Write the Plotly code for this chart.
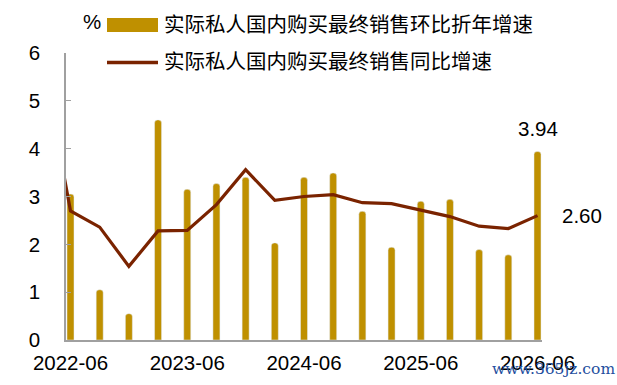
import plotly.graph_objects as go

# ---- data ----
quarters = ["2022-03", "2022-06", "2022-09", "2022-12", "2023-03", "2023-06", "2023-09",
            "2023-12", "2024-03", "2024-06", "2024-09", "2024-12", "2025-03", "2025-06",
            "2025-09", "2025-12", "2026-03", "2026-06"]
bar_quarters = quarters[1:]
qoq_annualized = [3.05, 1.05, 0.55, 4.60, 3.15, 3.27, 3.40, 2.03, 3.40, 3.49,
                  2.69, 1.94, 2.90, 2.94, 1.89, 1.78, 3.94]
yoy = [6.0, 2.70, 2.36, 1.54, 2.28, 2.29, 2.83, 3.56, 2.92, 3.00, 3.04,
       2.87, 2.85, 2.72, 2.58, 2.38, 2.33, 2.60]
tick_labels = ["2022-06", "2023-06", "2024-06", "2025-06", "2026-06"]
name_bar = "实际私人国内购买最终销售环比折年增速"
name_line = "实际私人国内购买最终销售同比增速"

BAR_C = "#BF9000"
LINE_C = "#7A2300"
AX_C = "#A0A0A0"
FONT = "Liberation Sans, Arial, Noto Sans CJK SC"
FS = 20.5

W, H = 617, 385
L, R, T, B = 66, 542, 53, 340
def px(x):
    return (x - L) / (R - L)
def py(y):
    return (B - y) / (B - T)

x_lo = 1 - 0.154
x_hi = len(quarters) - 1 + 0.154

fig = go.Figure()
fig.add_trace(go.Bar(x=bar_quarters, y=qoq_annualized, marker=dict(color=BAR_C, cornerradius=3),
                     width=0.24, name=name_bar, showlegend=False))
fig.add_trace(go.Scatter(x=quarters, y=yoy, mode="lines", line=dict(color=LINE_C, width=3.2),
                         name=name_line, showlegend=False))

# value labels
fig.add_annotation(x=bar_quarters[-1], y=qoq_annualized[-1], text=f"{qoq_annualized[-1]:.2f}",
                   showarrow=False, yanchor="bottom", yshift=10, font=dict(size=FS, color="#000"))
fig.add_annotation(x=quarters[-1], y=yoy[-1], text=f"{yoy[-1]:.2f}",
                   showarrow=False, xanchor="left", xshift=22, yanchor="middle",
                   font=dict(size=FS, color="#000"))

# custom legend
fig.add_shape(type="rect", xref="paper", yref="paper", x0=px(107), x1=px(158), y0=py(32), y1=py(18),
              fillcolor=BAR_C, line=dict(width=0))
fig.add_shape(type="line", xref="paper", yref="paper", x0=px(107), x1=px(158), y0=py(62.5), y1=py(62.5),
              line=dict(color=LINE_C, width=3.5))
fig.add_annotation(xref="paper", yref="paper", x=px(162), y=py(25), text=name_bar, showarrow=False,
                   xanchor="left", yanchor="middle", font=dict(size=FS, color="#000"))
fig.add_annotation(xref="paper", yref="paper", x=px(162), y=py(62), text=name_line, showarrow=False,
                   xanchor="left", yanchor="middle", font=dict(size=FS, color="#000"))
fig.add_annotation(xref="paper", yref="paper", x=px(92), y=py(21), text="%", showarrow=False,
                   xanchor="center", yanchor="middle", font=dict(size=FS, color="#000"))
# watermark
fig.add_annotation(xref="paper", yref="paper", x=px(553), y=py(369), text="www.365jz.com", showarrow=False,
                   xanchor="center", yanchor="middle",
                   font=dict(size=15.5, color="#1F4F9E", family="DejaVu Serif, Liberation Serif"))

fig.update_layout(
    width=W, height=H,
    margin=dict(l=L, r=W - R, t=T, b=H - B, pad=0),
    plot_bgcolor="white", paper_bgcolor="white",
    font=dict(family=FONT, size=FS, color="#000"),
    xaxis=dict(type="category", categoryorder="array", categoryarray=quarters,
               range=[x_lo, x_hi], tickvals=tick_labels, ticktext=tick_labels,
               ticks="", showline=True, linecolor=AX_C, linewidth=1.5, showgrid=False,
               ticklabelstandoff=4, tickfont=dict(size=FS)),
    xaxis2=dict(overlaying="x", anchor="y", range=[x_lo, x_hi], type="linear",
                tickvals=[x_lo + 4 * k for k in range(5)], ticks="inside", ticklen=5,
                tickcolor=AX_C, showticklabels=False, showline=False, showgrid=False, zeroline=False),
    yaxis=dict(range=[0, 6], dtick=1, ticks="inside", ticklen=5, tickcolor=AX_C,
               showline=True, linecolor=AX_C, linewidth=1.5, showgrid=False, zeroline=False,
               ticklabelstandoff=20, tickfont=dict(size=FS)),
)

fig.write_html("out.html")
